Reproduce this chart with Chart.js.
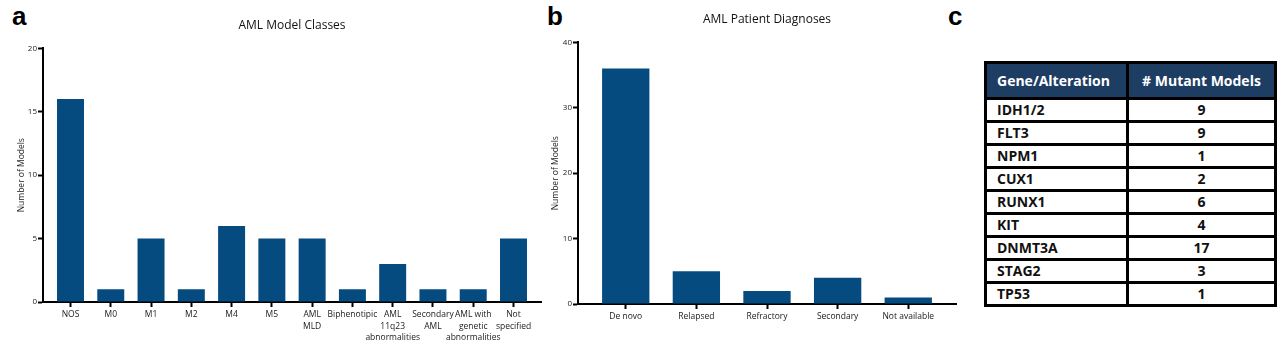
<!DOCTYPE html>
<html>
<head>
<meta charset="utf-8">
<script src="https://cdn.jsdelivr.net/npm/chart.js@4.4.1/dist/chart.umd.min.js"></script>
<style>
    body { margin: 0; width: 1280px; height: 347px; background: #fff; position: relative; overflow: hidden; font-family: "Open Sans", sans-serif; }
    .panel { position: absolute; top: 0; height: 347px; }
    .tag { position: absolute; font-family: "Liberation Sans", Arial, sans-serif; font-weight: bold; font-size: 26px; line-height: 26px; color: #000; }
    #mutTable { position: absolute; left: 984px; top: 61px; width: 290px; border-collapse: collapse; table-layout: fixed;
                font-family: "Open Sans", sans-serif; font-weight: bold; font-size: 14px; color: #111; }
    #mutTable th, #mutTable td { border: 3px solid #000; padding: 0 0 0 10px; text-align: left; }
    #mutTable th { background: #1d3d63; color: #fff; height: 33px; }
    #mutTable td { height: 20px; line-height: 16px; }
    #mutTable th:nth-child(2), #mutTable td:nth-child(2) { text-align: center; padding: 0; }
</style>
</head>
<body>
<div class="tag" style="left:12px;top:3px">a</div>
<div class="tag" style="left:547px;top:3px">b</div>
<div class="tag" style="left:948px;top:3px">c</div>

<div class="panel" style="left:0;width:545px"><canvas id="classChart"></canvas></div>
<div class="panel" style="left:540px;width:420px"><canvas id="diagChart"></canvas></div>
<table id="mutTable">
    <colgroup><col style="width:142px"><col style="width:148px"></colgroup>
</table>

<script>
// AML model classes
const classLabels = ['NOS', 'M0', 'M1', 'M2', 'M4', 'M5', ['AML', 'MLD'], 'Biphenotipic',
    ['AML', '11q23', 'abnormalities'], ['Secondary', 'AML'], ['AML with', 'genetic', 'abnormalities'], ['Not', 'specified']];
const classCounts = [16, 1, 5, 1, 6, 5, 5, 1, 3, 1, 1, 5];
const classTicks = [0, 5, 10, 15, 20];

// AML patient diagnoses
const diagLabels = ['De novo', 'Relapsed', 'Refractory', 'Secondary', 'Not available'];
const diagCounts = [36, 5, 2, 4, 1];
const diagTicks = [0, 10, 20, 30, 40];

// mutation table
const geneNames = ['IDH1/2', 'FLT3', 'NPM1', 'CUX1', 'RUNX1', 'KIT', 'DNMT3A', 'STAG2', 'TP53'];
const mutantCounts = [9, 9, 1, 2, 6, 4, 17, 3, 1];

const BAR_BLUE = '#064b80';
const TEXT = '#1a1a1a';

function barChart(id, labels, values, yTicks, cfg) {
    const n = labels.length;
    return new Chart(document.getElementById(id), {
        type: 'bar',
        data: {
            datasets: [{
                data: values.map((v, i) => ({ x: i, y: v })),
                backgroundColor: BAR_BLUE,
                borderWidth: 0,
                barPercentage: 0.67,
                categoryPercentage: 1
            }]
        },
        options: {
            responsive: true,
            maintainAspectRatio: false,
            animation: false,
            layout: { padding: { left: 0, right: 4, top: 0, bottom: 0 } },
            plugins: {
                legend: { display: false },
                tooltip: { enabled: false },
                title: {
                    display: true,
                    text: cfg.title,
                    fullSize: false,
                    color: '#111',
                    font: { family: 'Open Sans', size: 12, weight: 'normal' },
                    padding: { top: cfg.titleTop, bottom: cfg.titleBottom }
                }
            },
            scales: {
                x: {
                    type: 'linear',
                    offset: false,
                    min: -cfg.pad,
                    max: n - 1 + cfg.pad,
                    afterBuildTicks: s => { s.ticks = labels.map((_, i) => ({ value: i })); },
                    afterFit: s => { s.height = cfg.xHeight; },
                    ticks: {
                        autoSkip: false,
                        maxRotation: 0,
                        padding: 2,
                        color: TEXT,
                        font: { family: 'Open Sans', size: 8.5, lineHeight: 1.35 },
                        callback: v => labels[v]
                    },
                    grid: { offset: false, drawOnChartArea: false, drawTicks: true, tickLength: 5, tickWidth: 2, tickColor: '#000' },
                    border: { display: true, color: '#000', width: 2 }
                },
                y: {
                    min: 0,
                    max: yTicks[yTicks.length - 1],
                    afterBuildTicks: s => { s.ticks = yTicks.map(v => ({ value: v })); },
                    afterFit: s => { s.width = cfg.yWidth; },
                    ticks: { padding: 1, color: TEXT, font: { family: 'Open Sans', size: 8 } },
                    grid: { drawOnChartArea: false, drawTicks: true, tickLength: 5, tickWidth: 2, tickColor: '#000' },
                    border: { display: true, color: '#000', width: 2 },
                    title: {
                        display: true,
                        text: 'Number of Models',
                        color: TEXT,
                        font: { family: 'Open Sans', size: 8.5 },
                        padding: { top: cfg.yTitlePad, bottom: 0 }
                    }
                }
            }
        }
    });
}

barChart('classChart', classLabels, classCounts, classTicks, {
    title: 'AML Model Classes', pad: 0.683, titleTop: 18, titleBottom: 16,
    xHeight: 45, yWidth: 43, yTitlePad: 16
});

barChart('diagChart', diagLabels, diagCounts, diagTicks, {
    title: 'AML Patient Diagnoses', pad: 0.676, titleTop: 12, titleBottom: 16,
    xHeight: 43, yWidth: 38, yTitlePad: 10
});

// build the mutation table rows
const table = document.getElementById('mutTable');
let rows = '<tr><th>Gene/Alteration</th><th># Mutant Models</th></tr>';
geneNames.forEach((g, i) => {
    rows += '<tr><td>' + g + '</td><td>' + mutantCounts[i] + '</td></tr>';
});
table.insertAdjacentHTML('beforeend', rows);
</script>
</body>
</html>
